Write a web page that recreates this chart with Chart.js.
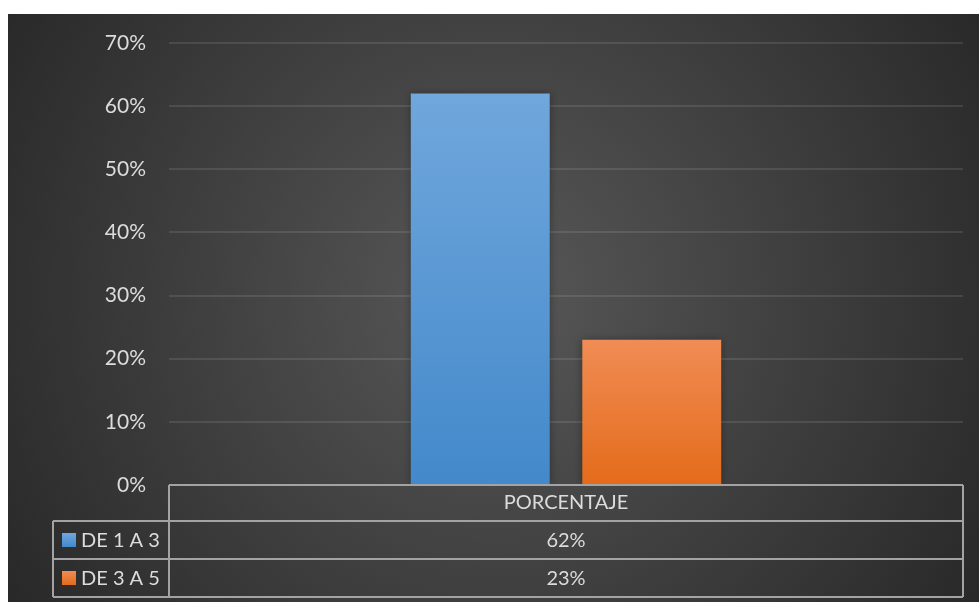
<!DOCTYPE html>
<html>
<head>
<meta charset="utf-8">
<title>Porcentaje</title>
<script src="https://cdn.jsdelivr.net/npm/chart.js@4.4.1/dist/chart.umd.min.js"></script>
<style>
  body { margin: 0; background: #fff; }
  #chart { position: absolute; left: 8px; top: 14px; }
</style>
</head>
<body>
<canvas id="chart" width="971" height="588"></canvas>
<script>
// data
var categories = ['PORCENTAJE'];
var seriesNames = ['DE 1 A 3', 'DE 3 A 5'];
var seriesA = [62];
var seriesB = [23];
var yTicks = [0, 10, 20, 30, 40, 50, 60, 70];

var FONT = 'Lato, "Open Sans", sans-serif';
var TEXT = '#dcdcdc';
var barTop = ['#70a7dc', '#f08c55'];
var barBottom = ['#4389cb', '#e46b1a'];

// vertical gradient per bar, from its top down to the axis
function barFill(context) {
    var chart = context.chart;
    var y = chart.scales.y;
    if (!y || context.parsed === undefined || context.type !== 'data') return barBottom[context.datasetIndex];
    var top = y.getPixelForValue(context.parsed.y);
    var bottom = y.getPixelForValue(0);
    if (!isFinite(top) || !isFinite(bottom) || top === bottom) return barBottom[context.datasetIndex];
    var g = chart.ctx.createLinearGradient(0, top, 0, bottom);
    g.addColorStop(0, barTop[context.datasetIndex]);
    g.addColorStop(1, barBottom[context.datasetIndex]);
    return g;
}

var background = {
    id: 'background',
    beforeDraw: function (chart) {
        var ctx = chart.ctx, w = chart.width, h = chart.height;
        var g = ctx.createRadialGradient(w * 0.5, h * 0.48, 0, w * 0.5, h * 0.48, w * 0.62);
        g.addColorStop(0, '#585858');
        g.addColorStop(1, '#262626');
        ctx.save();
        ctx.fillStyle = g;
        ctx.fillRect(0, 0, w, h);
        ctx.restore();
    }
};

var barShadow = {
    id: 'barShadow',
    beforeDatasetsDraw: function (chart) {
        var ctx = chart.ctx;
        ctx.save();
        ctx.shadowColor = 'rgba(0,0,0,0.35)';
        ctx.shadowBlur = 8;
    },
    afterDatasetsDraw: function (chart) {
        chart.ctx.restore();
    }
};

// data table under the plot: header row plus one row per series
var dataTable = {
    id: 'dataTable',
    afterDraw: function (chart) {
        var ctx = chart.ctx, area = chart.chartArea;
        var rows = [area.bottom, area.bottom + 36, area.bottom + 74, area.bottom + 112];
        var keyLeft = 45;
        var cx = chart.scales.x.getPixelForValue(0);
        ctx.save();
        ctx.strokeStyle = '#a3a3a3';
        ctx.lineWidth = 2;
        ctx.beginPath();
        ctx.moveTo(area.left, rows[0]); ctx.lineTo(area.right, rows[0]);
        for (var i = 1; i < rows.length; i++) {
            ctx.moveTo(keyLeft, rows[i]); ctx.lineTo(area.right, rows[i]);
        }
        ctx.moveTo(area.left, rows[0]); ctx.lineTo(area.left, rows[3]);
        ctx.moveTo(area.right, rows[0]); ctx.lineTo(area.right, rows[3]);
        ctx.moveTo(keyLeft, rows[1]); ctx.lineTo(keyLeft, rows[3]);
        ctx.stroke();

        ctx.fillStyle = TEXT;
        ctx.font = '20px ' + FONT;
        ctx.textBaseline = 'middle';
        ctx.textAlign = 'center';
        ctx.fillText(categories[0], cx, (rows[0] + rows[1]) / 2);

        chart.data.datasets.forEach(function (ds, k) {
            var mid = (rows[k + 1] + rows[k + 2]) / 2;
            var g = ctx.createLinearGradient(0, mid - 7, 0, mid + 7);
            g.addColorStop(0, barTop[k]);
            g.addColorStop(1, barBottom[k]);
            ctx.fillStyle = g;
            ctx.fillRect(keyLeft + 9, mid - 7, 14, 14);
            ctx.fillStyle = TEXT;
            ctx.textAlign = 'left';
            ctx.fillText(ds.label, keyLeft + 28, mid + 1);
            ctx.textAlign = 'center';
            ctx.fillText(ds.data[0] + '%', cx, mid + 1);
        });
        ctx.restore();
    }
};

new Chart(document.getElementById('chart'), {
    type: 'bar',
    data: {
        labels: categories,
        datasets: [
            { label: seriesNames[0], data: seriesA, backgroundColor: barFill },
            { label: seriesNames[1], data: seriesB, backgroundColor: barFill }
        ]
    },
    options: {
        responsive: false,
        animation: false,
        devicePixelRatio: 1,
        categoryPercentage: 0.432,
        barPercentage: 0.81,
        layout: { padding: { top: 29, right: 16, bottom: 117, left: 0 } },
        plugins: { legend: { display: false }, tooltip: { enabled: false } },
        scales: {
            x: { display: false },
            y: {
                min: 0,
                max: 70,
                afterFit: function (s) {
                    s.width = 161;
                    s.paddingTop = 0;
                    s.paddingBottom = 0;
                },
                afterBuildTicks: function (s) {
                    s.ticks = yTicks.map(function (v) { return { value: v }; });
                },
                border: { display: false },
                grid: { color: 'rgba(255,255,255,0.1)', lineWidth: 2, drawTicks: false },
                ticks: {
                    padding: 23,
                    color: TEXT,
                    font: { family: FONT, size: 21 },
                    callback: function (v) { return v + '%'; }
                }
            }
        }
    },
    plugins: [background, barShadow, dataTable]
});
</script>
</body>
</html>
